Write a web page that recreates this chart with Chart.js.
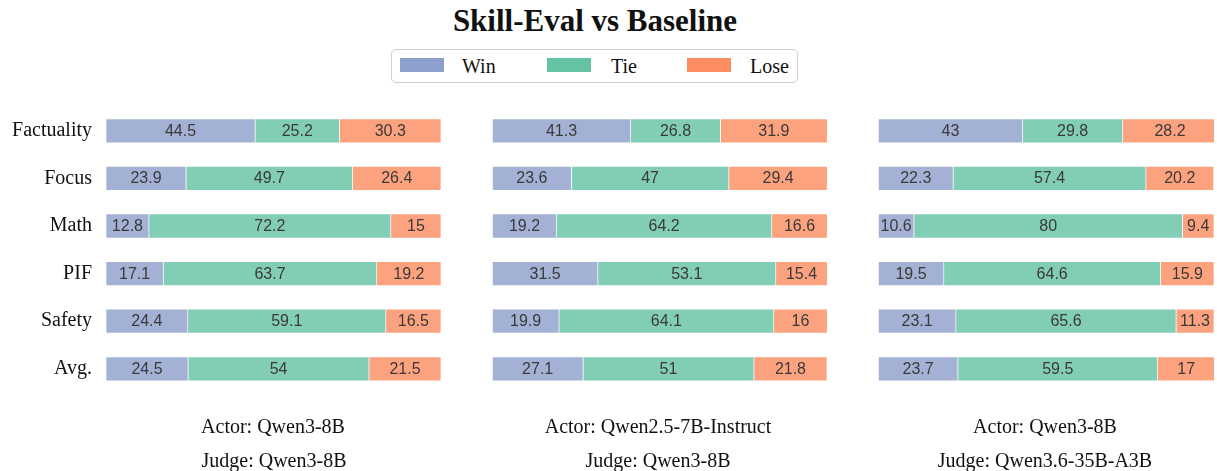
<!DOCTYPE html>
<html>
<head>
<meta charset="utf-8">
<script src="https://cdn.jsdelivr.net/npm/chart.js@4.4.1/dist/chart.umd.min.js"></script>
<style>
  html, body { margin: 0; padding: 0; background: #fff; }
  body { width: 1217px; height: 471px; position: relative; overflow: hidden; font-family: "Liberation Serif", "Times New Roman", serif; color: #111; }
  .abs { position: absolute; }
  #title { left: 0; width: 1190px; top: 3px; height: 36px; line-height: 36px; text-align: center; font-weight: bold; font-size: 31px; }
  #legend { left: 391px; top: 49px; width: 405px; height: 32px; border: 1.5px solid #d0d0d0; border-radius: 5px; }
  .sw { position: absolute; top: 8px; width: 44px; height: 14px; }
  .lt { position: absolute; top: 0; height: 32px; line-height: 32px; font-size: 20px; }
  .sub { text-align: center; font-size: 20px; width: 400px; height: 24px; line-height: 24px; }
  canvas { position: absolute; top: 0; }
</style>
</head>
<body>
<div id="title" class="abs">Skill-Eval vs Baseline</div>
<div id="legend" class="abs"></div>

<canvas id="c1" width="445" height="471" style="left:0px;width:445px;height:471px"></canvas>
<canvas id="c2" width="336" height="471" style="left:492px;width:336px;height:471px"></canvas>
<canvas id="c3" width="337" height="471" style="left:878px;width:337px;height:471px"></canvas>

<div class="abs sub" style="left:73px;top:414px">Actor: Qwen3-8B</div>
<div class="abs sub" style="left:74px;top:448px">Judge: Qwen3-8B</div>
<div class="abs sub" style="left:458px;top:414px">Actor: Qwen2.5-7B-Instruct</div>
<div class="abs sub" style="left:458px;top:448px">Judge: Qwen3-8B</div>
<div class="abs sub" style="left:845px;top:414px">Actor: Qwen3-8B</div>
<div class="abs sub" style="left:845px;top:448px">Judge: Qwen3.6-35B-A3B</div>

<script>
// ---- data ----
const categories = ["Factuality", "Focus", "Math", "PIF", "Safety", "Avg."];
const seriesNames = ["Win", "Tie", "Lose"];

const p1Win  = [44.5, 23.9, 12.8, 17.1, 24.4, 24.5];
const p1Tie  = [25.2, 49.7, 72.2, 63.7, 59.1, 54];
const p1Lose = [30.3, 26.4, 15, 19.2, 16.5, 21.5];

const p2Win  = [41.3, 23.6, 19.2, 31.5, 19.9, 27.1];
const p2Tie  = [26.8, 47, 64.2, 53.1, 64.1, 51];
const p2Lose = [31.9, 29.4, 16.6, 15.4, 16, 21.8];

const p3Win  = [43, 22.3, 10.6, 19.5, 23.1, 23.7];
const p3Tie  = [29.8, 57.4, 80, 64.6, 65.6, 59.5];
const p3Lose = [28.2, 20.2, 9.4, 15.9, 11.3, 17];

// ---- styles ----
const solid = ["#8da0cb", "#66c2a5", "#fc8d62"];
const fill  = ["rgba(141,160,203,0.82)", "rgba(102,194,165,0.82)", "rgba(252,141,98,0.82)"];

// legend (HTML)
const legend = document.getElementById('legend');
const swX = [8, 155, 295], txX = [70, 219, 358];
seriesNames.forEach((n, i) => {
  const s = document.createElement('div'); s.className = 'sw';
  s.style.left = swX[i] + 'px'; s.style.background = solid[i];
  legend.appendChild(s);
  const t = document.createElement('div'); t.className = 'lt';
  t.style.left = txX[i] + 'px'; t.textContent = n;
  legend.appendChild(t);
});

const valueLabels = {
  id: 'valueLabels',
  afterDatasetsDraw(chart) {
    const ctx = chart.ctx;
    ctx.save();
    ctx.font = '16px "Liberation Sans", Arial, sans-serif';
    ctx.fillStyle = '#3a3a3a';
    ctx.textAlign = 'center';
    ctx.textBaseline = 'middle';
    chart.data.datasets.forEach((ds, di) => {
      const meta = chart.getDatasetMeta(di);
      meta.data.forEach((el, i) => {
        const cx = (el.x + el.base) / 2;
        ctx.fillText(String(ds.data[i]), cx, el.y + 0.5);
      });
    });
    ctx.restore();
  }
};

function makeChart(id, win, tie, lose, showY, padLeft, padRight) {
  const sets = [win, tie, lose];
  return new Chart(document.getElementById(id), {
    type: 'bar',
    data: {
      labels: categories,
      datasets: sets.map((d, i) => ({
        label: seriesNames[i],
        data: d,
        backgroundColor: fill[i],
        borderColor: '#ffffff',
        borderWidth: 0.7,
        borderSkipped: false,
        barThickness: 24
      }))
    },
    options: {
      indexAxis: 'y',
      responsive: false,
      animation: false,
      events: [],
      layout: { padding: { left: padLeft, right: padRight, top: 107, bottom: 78.4 } },
      plugins: { legend: { display: false }, tooltip: { enabled: false }, title: { display: false } },
      scales: {
        x: { stacked: true, min: 0, max: 100, display: false },
        y: {
          stacked: true,
          display: showY,
          grid: { display: false, drawTicks: false },
          border: { display: false },
          ticks: { color: '#111', padding: 14, font: { family: '"Liberation Serif", "Times New Roman", serif', size: 20 } },
          afterFit(scale) { if (showY) scale.width = 106; }
        }
      }
    },
    plugins: [valueLabels]
  });
}

makeChart('c1', p1Win, p1Tie, p1Lose, true, 0, 4);
makeChart('c2', p2Win, p2Tie, p2Lose, false, 0.3, 0.7);
makeChart('c3', p3Win, p3Tie, p3Lose, false, 0.3, 1);
</script>
</body>
</html>
